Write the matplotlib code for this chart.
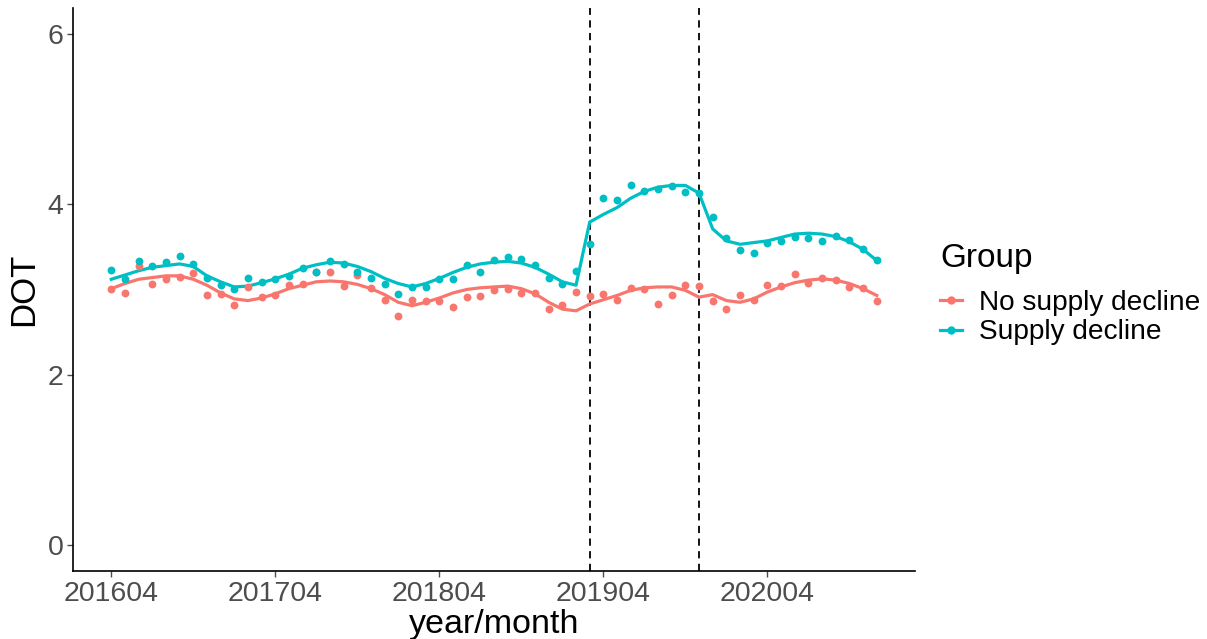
import matplotlib
matplotlib.use("Agg")
import matplotlib.pyplot as plt
from matplotlib.lines import Line2D
import numpy as np

plt.rcParams['font.family'] = ['Liberation Sans', 'DejaVu Sans']

tick_labels = ["201604", "201704", "201804", "201904", "202004"]
tick_idx = [0, 12, 24, 36, 48]
break_idx = [35, 43]

no_decline_pts = [3.01, 2.96, 3.27, 3.06, 3.125, 3.15, 3.19, 2.94, 2.95, 2.82,
                  3.03, 2.91, 2.94, 3.05, 3.06, 3.20, 3.21, 3.04, 3.17, 3.02,
                  2.88, 2.69, 2.88, 2.86, 2.86, 2.80, 2.91, 2.92, 2.99, 3.01,
                  2.96, 2.96, 2.77, 2.82, 2.97, 2.92, 2.95, 2.88, 3.02, 3.01,
                  2.83, 2.94, 3.05, 3.04, 2.86, 2.77, 2.93, 2.88, 3.05, 3.04,
                  3.18, 3.08, 3.14, 3.11, 3.03, 3.02, 2.87]
decline_pts = [3.23, 3.125, 3.33, 3.27, 3.32, 3.39, 3.30, 3.14, 3.05, 3.00,
               3.14, 3.09, 3.12, 3.16, 3.25, 3.21, 3.33, 3.30, 3.20, 3.14,
               3.07, 2.95, 3.03, 3.03, 3.125, 3.12, 3.29, 3.21, 3.34, 3.38,
               3.36, 3.29, 3.14, 3.07, 3.22, 3.53, 4.07, 4.05, 4.23, 4.15,
               4.18, 4.21, 4.14, 4.13, 3.85, 3.60, 3.46, 3.43, 3.54, 3.57,
               3.62, 3.60, 3.57, 3.63, 3.58, 3.47, 3.34]
no_decline_fit = [3.01, 3.07, 3.12, 3.14, 3.16, 3.16, 3.12, 3.05, 2.96, 2.89,
                  2.87, 2.90, 2.95, 3.01, 3.05, 3.09, 3.10, 3.09, 3.06, 3.01,
                  2.94, 2.85, 2.81, 2.85, 2.90, 2.96, 3.00, 3.02, 3.03, 3.04,
                  3.01, 2.95, 2.85, 2.77, 2.75, 2.83, 2.88, 2.93, 2.99, 3.02,
                  3.03, 3.03, 2.99, 2.91, 2.94, 2.87, 2.85, 2.89, 2.97, 3.03,
                  3.08, 3.11, 3.125, 3.11, 3.07, 3.01, 2.93]
decline_fit = [3.12, 3.17, 3.22, 3.26, 3.28, 3.30, 3.27, 3.16, 3.09, 3.03,
               3.04, 3.08, 3.125, 3.18, 3.25, 3.29, 3.32, 3.31, 3.27, 3.21,
               3.13, 3.07, 3.03, 3.07, 3.13, 3.20, 3.26, 3.30, 3.32, 3.33,
               3.31, 3.26, 3.18, 3.09, 3.05, 3.79, 3.88, 3.96, 4.07, 4.15,
               4.20, 4.22, 4.22, 4.13, 3.71, 3.57, 3.53, 3.55, 3.57, 3.61,
               3.65, 3.66, 3.65, 3.62, 3.56, 3.47, 3.34]

RED = "#F8766D"
CYAN = "#00BFC4"

fig = plt.figure(figsize=(12.07, 6.39), dpi=100)
ax = fig.add_axes([73/1207, (639-571)/639, (915-73)/1207, (571-8)/639])

x = np.arange(len(decline_pts))
ax.plot(x, no_decline_fit, color=RED, lw=2.3, zorder=3)
ax.plot(x, decline_fit, color=CYAN, lw=2.3, zorder=3)
ax.scatter(x, no_decline_pts, s=32, color=RED, zorder=4, linewidths=0)
ax.scatter(x, decline_pts, s=32, color=CYAN, zorder=4, linewidths=0)
for b in break_idx:
    ax.axvline(b, color="black", ls=(0, (4, 3)), lw=1.3, zorder=2)

ax.set_xlim(-2.8, 58.8)
ax.set_ylim(-0.3, 6.3)
ax.set_xticks(tick_idx)
ax.set_xticklabels(tick_labels)
ax.set_yticks([0, 2, 4, 6])
ax.tick_params(axis='both', labelsize=20.5, colors="#4D4D4D", length=4, width=1, pad=3)
for s in ["top", "right"]:
    ax.spines[s].set_visible(False)
for s in ["left", "bottom"]:
    ax.spines[s].set_color("black")
    ax.spines[s].set_linewidth(1.2)

ax.set_xlabel("year/month", fontsize=24.5, labelpad=2)
ax.set_ylabel("DOT", fontsize=25, labelpad=5)

fig.text(940/1207, 1-258/639, "Group", fontsize=24, va="center", ha="left")
handles = [Line2D([0], [0], color=RED, lw=2.3, marker='o', markersize=5),
           Line2D([0], [0], color=CYAN, lw=2.3, marker='o', markersize=5)]
leg = fig.legend(handles, ["No supply decline", "Supply decline"],
                 loc="upper left", bbox_to_anchor=(940/1207, 1-290/639),
                 frameon=False, fontsize=20.2,
                 handlelength=0.8, handletextpad=0.6, labelspacing=0.12,
                 borderpad=0, borderaxespad=0)

fig.savefig("out.png", dpi=100)
